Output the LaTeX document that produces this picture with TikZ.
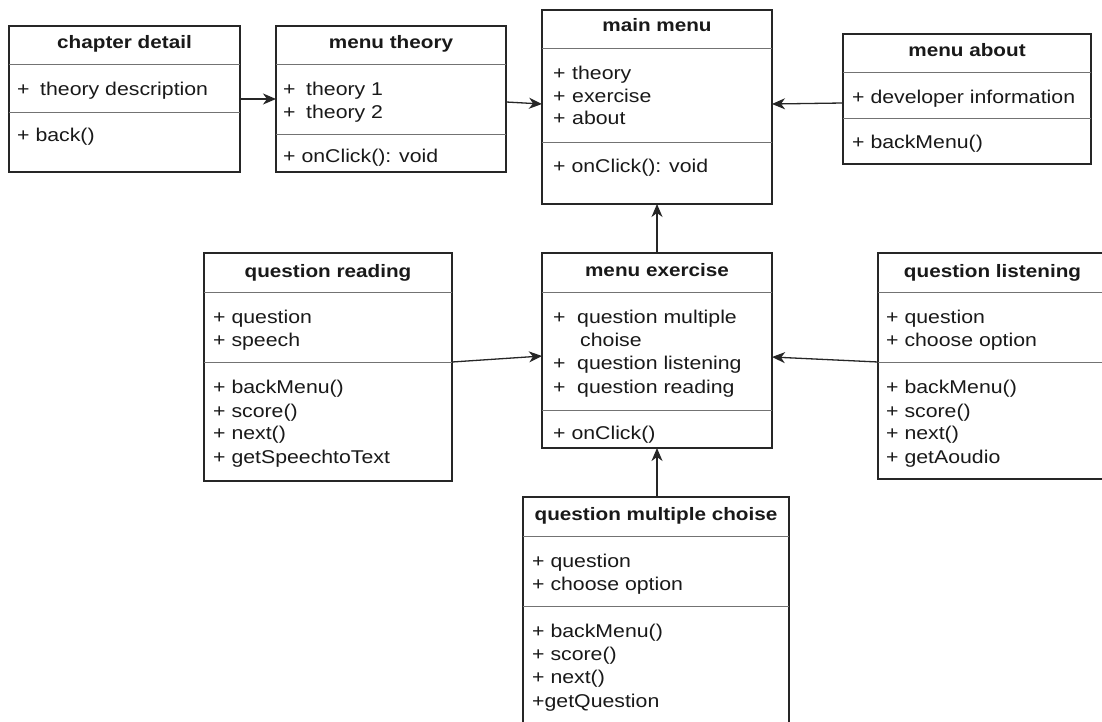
\documentclass[tikz,border=0pt]{standalone}
\usepackage{fontspec}
\setmainfont{Liberation Sans}[FakeStretch=1.15]
\usetikzlibrary{arrows.meta}
\newcommand\tf{\fontsize{18.5}{23}\selectfont}
\newcommand\tfb{\fontsize{18}{23}\selectfont}
\tikzset{
  cls/.style={draw=black!85, line width=1.2pt, fill=white, rectangle, inner sep=0pt, outer sep=0pt, anchor=north west},
  div/.style={draw=black!55, line width=1pt},
  ttl/.style={font=\tfb\bfseries, inner sep=0pt, anchor=base, text=black!90},
  txt/.style={font=\tf, inner sep=0pt, anchor=base west, text=black!90},
  arr/.style={draw=black!85, line width=1.3pt, -{Stealth[length=13pt,width=11pt,inset=4pt]}}
}
\begin{document}
\begin{tikzpicture}[x=1pt,y=-1pt]
\clip (0,0) rectangle (1102,722);
\fill[white] (0,0) rectangle (1102,722);

% chapter detail
\node[cls, minimum width=231pt, minimum height=146pt] (cd) at (9,26) {};
\draw[div] (9,65) -- (240,65);
\draw[div] (9,113) -- (240,113);
\node[ttl] (cdt) at (124.5,49) {chapter detail};
\node[txt] (cda1) at (17,96) {\makebox[23pt][l]{+}theory description};
\node[txt] (cdm1) at (17,142) {+ back()};

% menu theory
\node[cls, minimum width=230pt, minimum height=146pt] (mt) at (276,26) {};
\draw[div] (276,65) -- (506,65);
\draw[div] (276,135) -- (506,135);
\node[ttl] (mtt) at (391,49) {menu theory};
\node[txt] (mta1) at (283,96) {\makebox[23pt][l]{+}theory 1};
\node[txt] (mta2) at (283,119) {\makebox[23pt][l]{+}theory 2};
\node[txt] (mtm1) at (283,163) {+ onClick(): void};

% main menu
\node[cls, minimum width=230pt, minimum height=194pt] (mm) at (542,10) {};
\draw[div] (542,49) -- (772,49);
\draw[div] (542,143) -- (772,143);
\node[ttl] (mmt) at (657,32) {main menu};
\node[txt] (mma1) at (553,80) {\makebox[19pt][l]{+}theory};
\node[txt] (mma2) at (553,102.5) {\makebox[19pt][l]{+}exercise};
\node[txt] (mma3) at (553,125) {\makebox[19pt][l]{+}about};
\node[txt] (mmm1) at (553,173) {+ onClick(): void};

% menu about
\node[cls, minimum width=248pt, minimum height=130pt] (ma) at (843,34) {};
\draw[div] (843,73) -- (1091,73);
\draw[div] (843,119) -- (1091,119);
\node[ttl] (mat) at (967,57) {menu about};
\node[txt] (maa1) at (852,104) {+ developer information};
\node[txt] (mam1) at (852,149) {+ backMenu()};

% question reading
\node[cls, minimum width=248pt, minimum height=228pt] (qr) at (204,253) {};
\draw[div] (204,292) -- (452,292);
\draw[div] (204,362) -- (452,362);
\node[ttl] (qrt) at (328,277) {question reading};
\node[txt] (qra1) at (213,323) {+ question};
\node[txt] (qra2) at (213,346) {+ speech};
\node[txt] (qrm1) at (213,393) {+ backMenu()};
\node[txt] (qrm2) at (213,417) {+ score()};
\node[txt] (qrm3) at (213,439) {+ next()};
\node[txt] (qrm4) at (213,463) {+ getSpeechtoText};

% menu exercise
\node[cls, minimum width=230pt, minimum height=195pt] (me) at (542,253) {};
\draw[div] (542,292) -- (772,292);
\draw[div] (542,410) -- (772,410);
\node[ttl] (met) at (657,276) {menu exercise};
\node[txt] (mea1) at (553,323) {\makebox[24pt][l]{+}question multiple};
\node[txt] (mea2) at (580,346) {choise};
\node[txt] (mea3) at (553,369) {\makebox[24pt][l]{+}question listening};
\node[txt] (mea4) at (553,393) {\makebox[24pt][l]{+}question reading};
\node[txt] (mem1) at (553,439) {+ onClick()};

% question listening
\node[cls, minimum width=229pt, minimum height=226pt] (ql) at (878,253) {};
\draw[div] (878,292) -- (1107,292);
\draw[div] (878,362) -- (1107,362);
\node[ttl] (qlt) at (992.5,277) {question listening};
\node[txt] (qla1) at (886,323) {+ question};
\node[txt] (qla2) at (886,346) {+ choose option};
\node[txt] (qlm1) at (886,393) {+ backMenu()};
\node[txt] (qlm2) at (886,417) {+ score()};
\node[txt] (qlm3) at (886,439) {+ next()};
\node[txt] (qlm4) at (886,463) {+ getAoudio};

% question multiple choise
\node[cls, minimum width=266pt, minimum height=243pt] (qm) at (523,497) {};
\draw[div] (523,536) -- (789,536);
\draw[div] (523,606) -- (789,606);
\node[ttl] (qmt) at (656,520) {question multiple choise};
\node[txt] (qma1) at (532,567) {+ question};
\node[txt] (qma2) at (532,590) {+ choose option};
\node[txt] (qmm1) at (532,637) {+ backMenu()};
\node[txt] (qmm2) at (532,660) {+ score()};
\node[txt] (qmm3) at (532,683) {+ next()};
\node[txt] (qmm4) at (532,707) {+getQuestion};

% connectors
\draw[arr] (cd.east) -- (mt.west);
\draw[arr] ([yshift=-3pt]mt.east) -- ([yshift=3pt]mm.west);
\draw[arr] ([yshift=-4pt]ma.west) -- ([yshift=3pt]mm.east);
\draw[arr] (me.north) -- (mm.south);
\draw[arr] ([yshift=5pt]qr.east) -- ([yshift=-5.5pt]me.west);
\draw[arr] ([yshift=4pt]ql.west) -- ([yshift=-6.5pt]me.east);
\draw[arr] (me.south |- qm.north) -- (me.south);
\end{tikzpicture}
\end{document}
